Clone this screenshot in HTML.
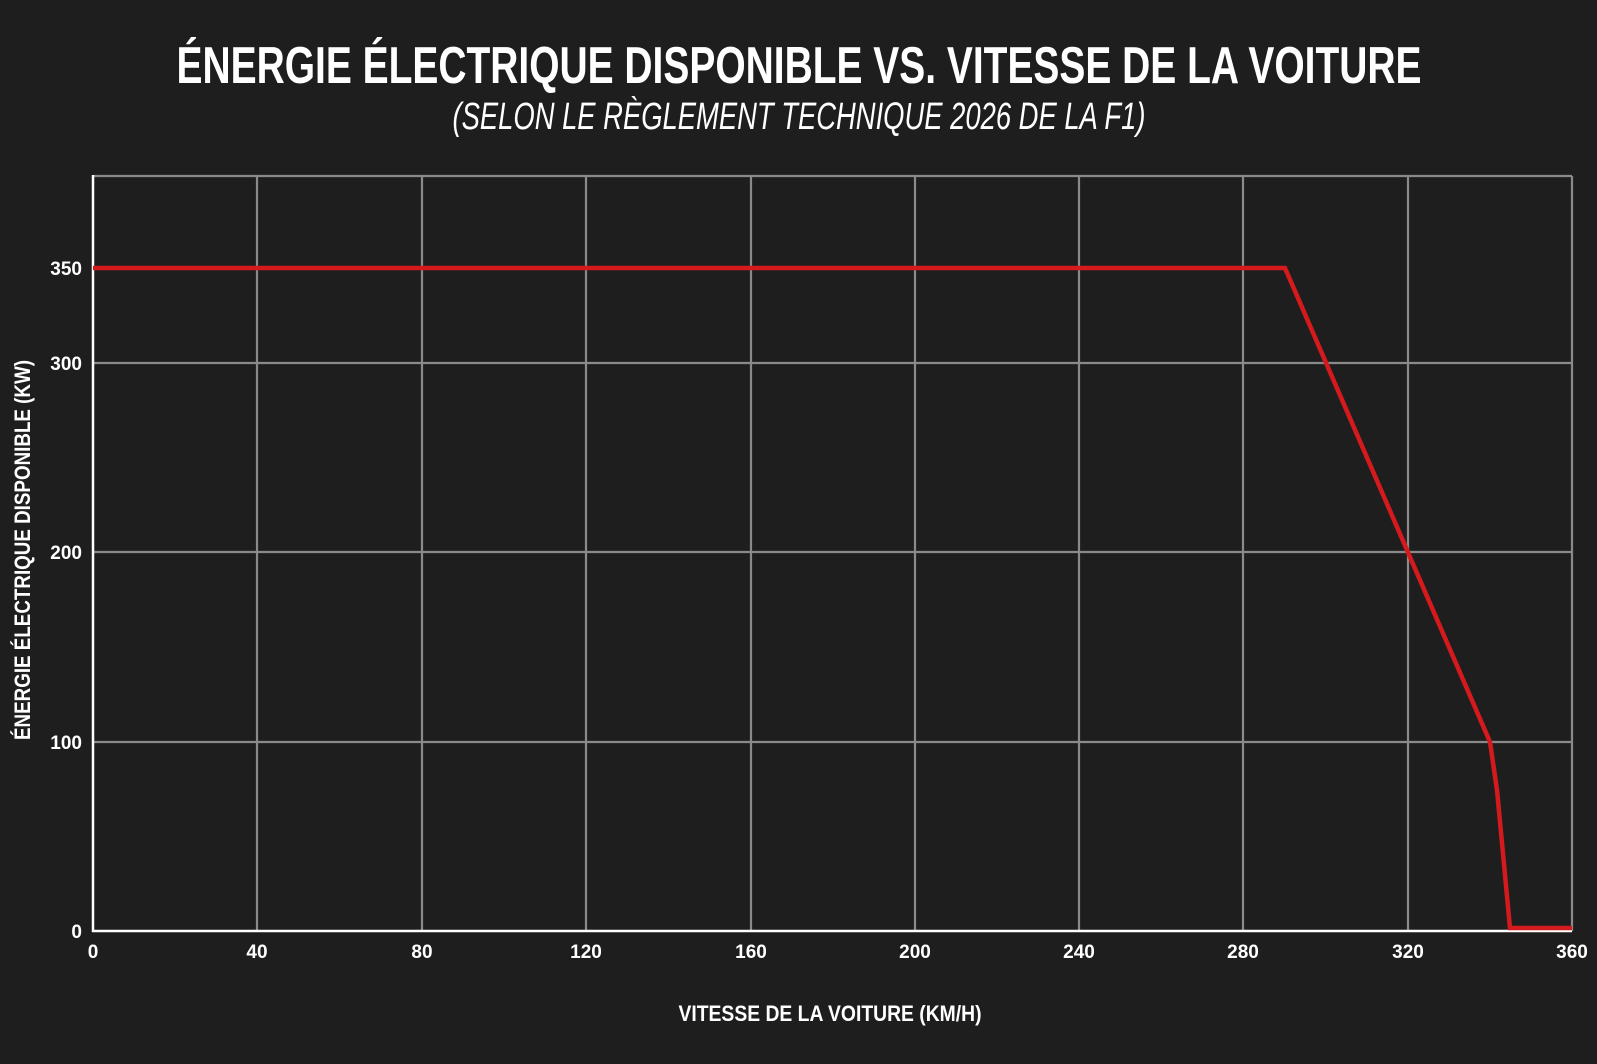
<!DOCTYPE html>
<html><head><meta charset="utf-8"><style>
html,body{margin:0;padding:0;background:#1f1e1f;}
svg{display:block;}
text{font-family:"Liberation Sans",sans-serif;fill:#fff;}
</style></head><body>
<svg width="1597" height="1064" viewBox="0 0 1597 1064" xmlns="http://www.w3.org/2000/svg">
<rect width="1597" height="1064" fill="#1f1e1f"/>
<text x="799" y="83" text-anchor="middle" font-size="52" font-weight="bold" textLength="1245" lengthAdjust="spacingAndGlyphs">ÉNERGIE ÉLECTRIQUE DISPONIBLE VS. VITESSE DE LA VOITURE</text>
<text x="799" y="129" text-anchor="middle" font-size="38" font-style="italic" textLength="693" lengthAdjust="spacingAndGlyphs" fill="#eee">(SELON LE RÈGLEMENT TECHNIQUE 2026 DE LA F1)</text>
<g stroke="#8a8a8a" stroke-width="2.2" fill="none">
<line x1="93" y1="176" x2="1572" y2="176"/>
<line x1="93" y1="363" x2="1572" y2="363"/>
<line x1="93" y1="552" x2="1572" y2="552"/>
<line x1="93" y1="742" x2="1572" y2="742"/>
<line x1="257" y1="176" x2="257" y2="931"/>
<line x1="422" y1="176" x2="422" y2="931"/>
<line x1="586" y1="176" x2="586" y2="931"/>
<line x1="751" y1="176" x2="751" y2="931"/>
<line x1="915" y1="176" x2="915" y2="931"/>
<line x1="1079" y1="176" x2="1079" y2="931"/>
<line x1="1243" y1="176" x2="1243" y2="931"/>
<line x1="1408" y1="176" x2="1408" y2="931"/>
<line x1="1572" y1="176" x2="1572" y2="931"/>
</g>
<g stroke="#fff" stroke-width="2.5">
<line x1="93" y1="175" x2="93" y2="932"/>
<line x1="92" y1="931" x2="1572" y2="931"/>
</g>
<polyline points="93,268 1285,268 1490,742 1497,790 1510,928 1572,928" fill="none" stroke="#d41a1d" stroke-width="4.5" stroke-linejoin="miter"/>
<g font-size="19" font-weight="bold" text-anchor="end">
<text x="82" y="275">350</text>
<text x="82" y="370">300</text>
<text x="82" y="559">200</text>
<text x="82" y="749">100</text>
<text x="82" y="938">0</text>
</g>
<g font-size="19" font-weight="bold" text-anchor="middle">
<text x="93" y="958">0</text>
<text x="257" y="958">40</text>
<text x="422" y="958">80</text>
<text x="586" y="958">120</text>
<text x="751" y="958">160</text>
<text x="915" y="958">200</text>
<text x="1079" y="958">240</text>
<text x="1243" y="958">280</text>
<text x="1408" y="958">320</text>
<text x="1572" y="958">360</text>
</g>
<text x="830" y="1021" text-anchor="middle" font-size="22" font-weight="bold" textLength="303" lengthAdjust="spacingAndGlyphs">VITESSE DE LA VOITURE (KM/H)</text>
<text transform="translate(30,550) rotate(-90)" text-anchor="middle" font-size="22" font-weight="bold" textLength="380" lengthAdjust="spacingAndGlyphs">ÉNERGIE ÉLECTRIQUE DISPONIBLE (KW)</text>
</svg>
</body></html>
